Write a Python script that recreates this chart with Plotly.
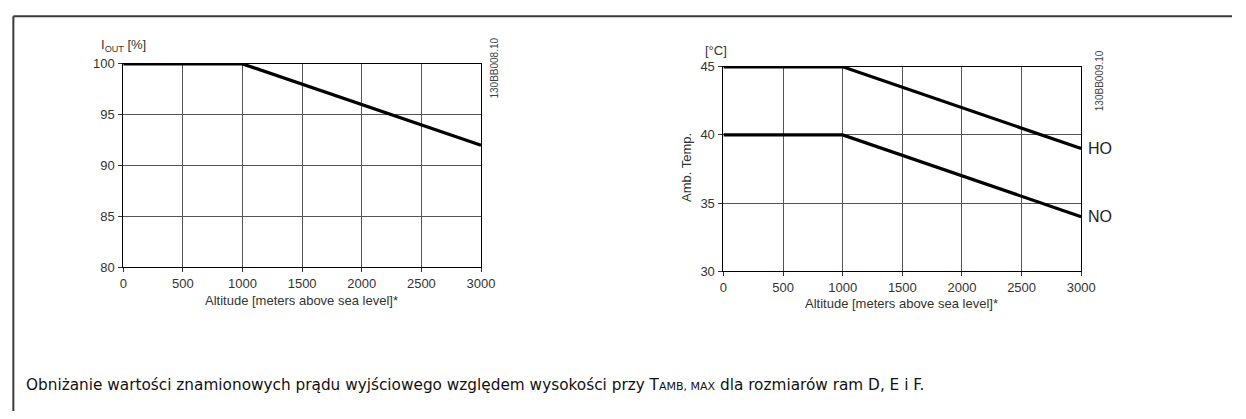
import plotly.graph_objects as go

# Altitude derating data
altitude = [0, 1000, 3000]
iout_pct = [100, 100, 92]
temp_ho = [45, 45, 39]
temp_no = [40, 40, 34]

x_ticks = [0, 500, 1000, 1500, 2000, 2500, 3000]
iout_ticks = [80, 85, 90, 95, 100]
temp_ticks = [30, 35, 40, 45]

W, H = 1246, 419


def px_x(v):
    return v / W


def px_y(v):
    return 1 - v / H


fig = go.Figure()

fig.add_trace(go.Scatter(x=altitude, y=iout_pct, mode="lines",
                         line=dict(color="black", width=3.2),
                         xaxis="x", yaxis="y", showlegend=False,
                         cliponaxis=False))
fig.add_trace(go.Scatter(x=altitude, y=temp_ho, mode="lines",
                         line=dict(color="black", width=3.2),
                         xaxis="x2", yaxis="y2", showlegend=False,
                         cliponaxis=False))
fig.add_trace(go.Scatter(x=altitude, y=temp_no, mode="lines",
                         line=dict(color="black", width=3.2),
                         xaxis="x2", yaxis="y2", showlegend=False,
                         cliponaxis=False))

tick_font = dict(family="Liberation Sans, Arial, sans-serif", size=13, color="#333")

axis_common = dict(showline=True, linecolor="black", linewidth=1, mirror=True,
                   showgrid=True, gridcolor="#555", gridwidth=1,
                   ticks="outside", ticklen=4, tickcolor="#333",
                   tickfont=tick_font, zeroline=False, fixedrange=True)

fig.update_layout(
    width=W, height=H,
    margin=dict(l=0, r=0, t=0, b=0),
    paper_bgcolor="white", plot_bgcolor="white",
    xaxis=dict(domain=[px_x(121), px_x(484)], range=[0, 3000],
               tickvals=x_ticks, anchor="y", **axis_common),
    yaxis=dict(domain=[px_y(270), px_y(59)], range=[80, 100],
               tickvals=iout_ticks, anchor="x", ticklabelstandoff=1, **axis_common),
    xaxis2=dict(domain=[px_x(730), px_x(1093)], range=[0, 3000],
                tickvals=x_ticks, anchor="y2", **axis_common),
    yaxis2=dict(domain=[px_y(274), px_y(62)], range=[30, 45],
                tickvals=temp_ticks, anchor="x2", ticklabelstandoff=1, **axis_common),
)

label_font = dict(family="Liberation Sans, Arial, sans-serif", size=13, color="#333")
code_font = dict(family="Liberation Sans, Arial, sans-serif", size=10, color="#444")
end_font = dict(family="Liberation Sans, Arial, sans-serif", size=16, color="#222")

annotations = [
    # left chart
    dict(text="I<sub>OUT</sub> [%]", x=px_x(96), y=px_y(40), xref="paper", yref="paper",
         xanchor="left", yanchor="middle", showarrow=False, font=label_font),
    dict(text="Altitude [meters above sea level]*", x=px_x(302), y=px_y(304),
         xref="paper", yref="paper", xanchor="center", yanchor="middle",
         showarrow=False, font=label_font),
    dict(text="130BB008.10", x=px_x(498), y=px_y(63), xref="paper", yref="paper",
         textangle=-90, xanchor="center", yanchor="middle", showarrow=False, font=code_font),
    # right chart
    dict(text="[°C]", x=px_x(709), y=px_y(45), xref="paper", yref="paper",
         xanchor="left", yanchor="middle", showarrow=False, font=label_font),
    dict(text="Amb. Temp.", x=px_x(692), y=px_y(167), xref="paper", yref="paper",
         textangle=-90, xanchor="center", yanchor="middle", showarrow=False, font=label_font),
    dict(text="Altitude [meters above sea level]*", x=px_x(911), y=px_y(308),
         xref="paper", yref="paper", xanchor="center", yanchor="middle",
         showarrow=False, font=label_font),
    dict(text="130BB009.10", x=px_x(1111), y=px_y(76), xref="paper", yref="paper",
         textangle=-90, xanchor="center", yanchor="middle", showarrow=False, font=code_font),
    dict(text="HO", x=3000, y=temp_ho[-1], xref="x2", yref="y2", xanchor="left",
         yanchor="middle", xshift=5, showarrow=False, font=end_font),
    dict(text="NO", x=3000, y=temp_no[-1], xref="x2", yref="y2", xanchor="left",
         yanchor="middle", xshift=5, showarrow=False, font=end_font),
    # caption
    dict(text="Obniżanie wartości znamionowych prądu wyjściowego względem wysokości przy "
              "T<span style='font-size:11px'>AMB, MAX</span> dla rozmiarów ram D, E i F.",
         x=px_x(20), y=px_y(392), xref="paper", yref="paper", xanchor="left",
         yanchor="middle", showarrow=False,
         font=dict(family="DejaVu Sans, Verdana, sans-serif", size=15.3, color="#111")),
]
fig.update_layout(annotations=annotations)

# outer frame: top and left rules
fig.update_layout(shapes=[
    dict(type="line", xref="paper", yref="paper", x0=px_x(9.5), x1=1,
         y0=px_y(9.5), y1=px_y(9.5), line=dict(color="#3a3a3a", width=2)),
    dict(type="line", xref="paper", yref="paper", x0=px_x(9.5), x1=px_x(9.5),
         y0=px_y(9.5), y1=0, line=dict(color="#3a3a3a", width=2)),
])

fig.write_html("out.html", config={"displayModeBar": False})
